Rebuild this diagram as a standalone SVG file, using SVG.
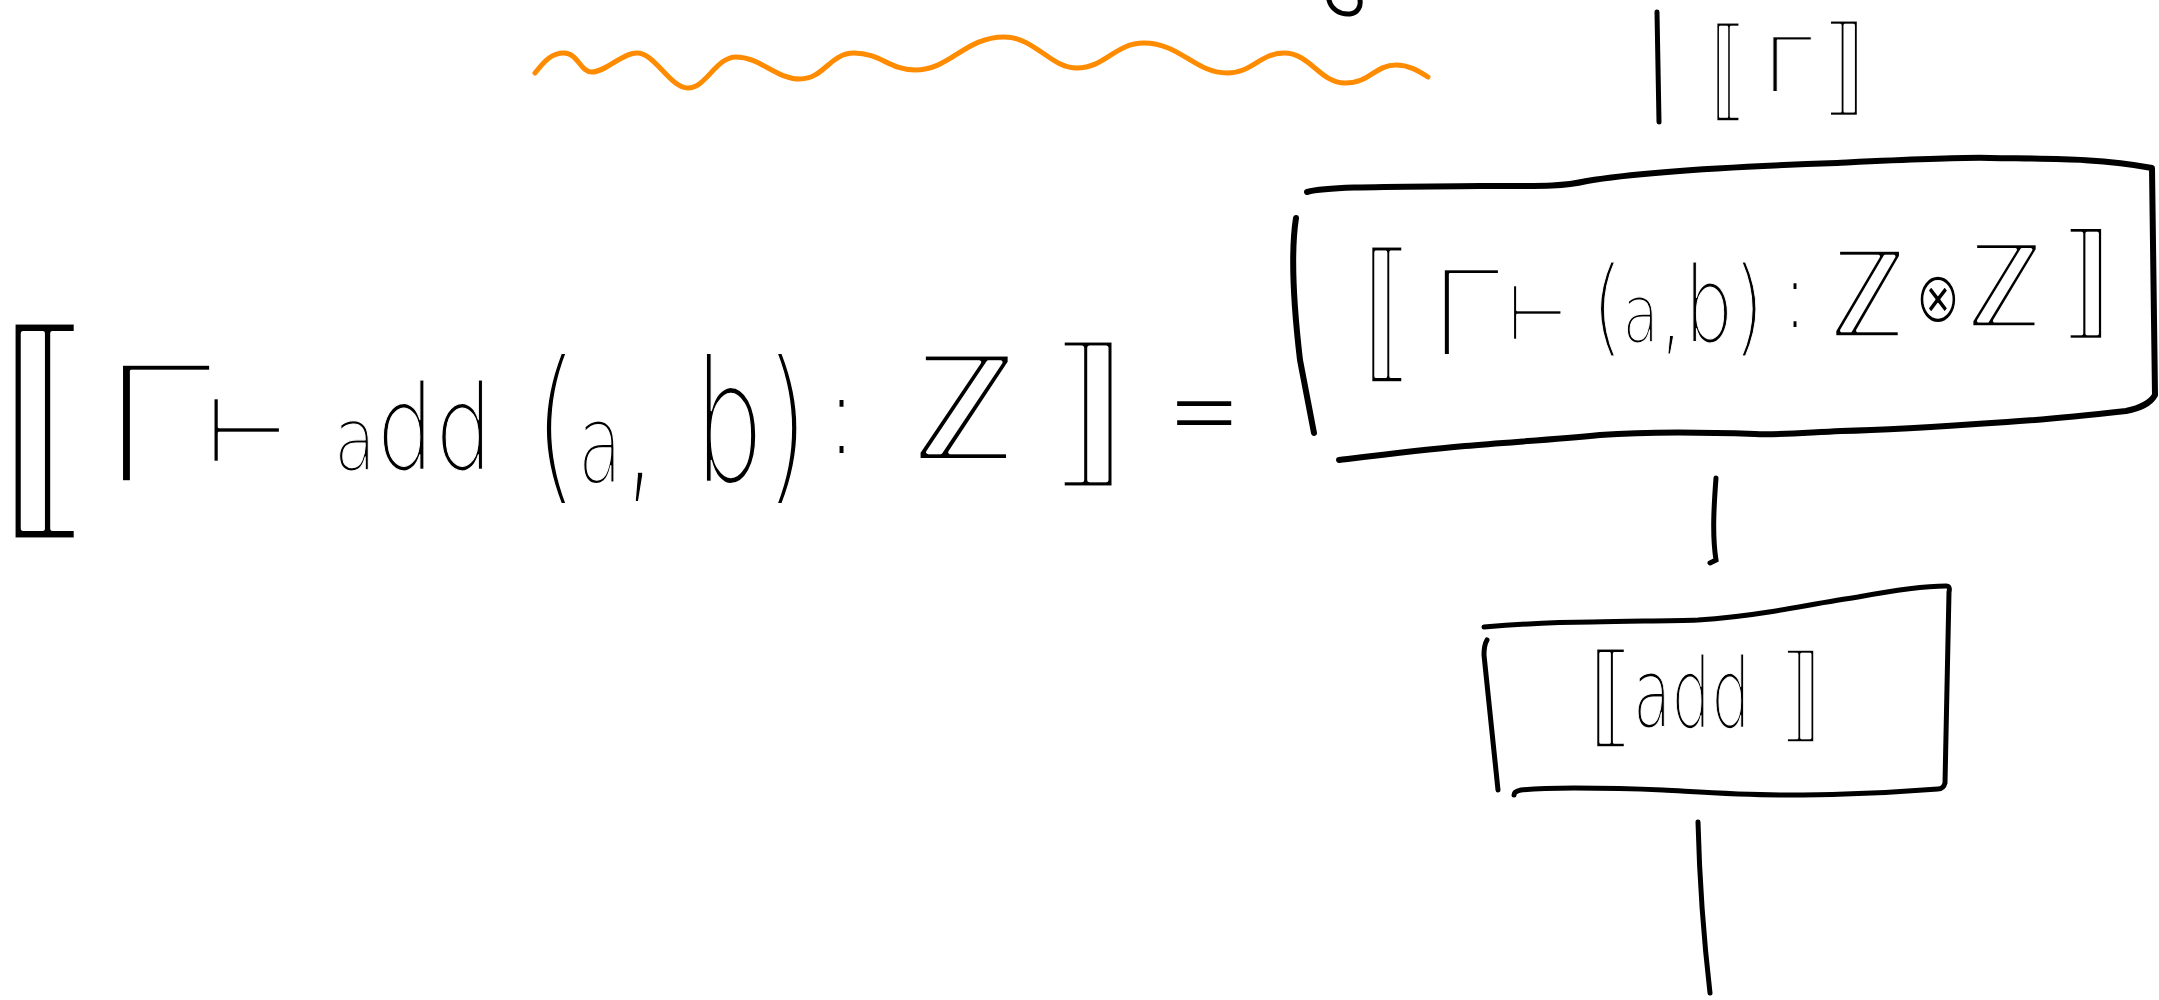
<svg xmlns="http://www.w3.org/2000/svg" width="2159" height="1000" viewBox="0 0 2159 1000">
  <style>
    .hw { font-family: 'DejaVu Sans', 'Liberation Sans', sans-serif; font-weight: 200; fill: #000; stroke: #fff; stroke-linejoin: round; }
    .edge { fill: none; stroke: #000; stroke-width: 6; stroke-linecap: round; stroke-linejoin: round; }
    .thin { stroke-width: 5; }
    .wire { fill: none; stroke: #000; stroke-width: 5; stroke-linecap: round; }
    .wave { fill: none; stroke: #ff8c00; stroke-width: 5; stroke-linecap: round; }
  </style>
  <rect width="2159" height="1000" fill="#fff"/>

  <!-- decorative strokes -->
  <path class="wave" d="M535,73 C545,60 552,53 564,53 C578,53 580,72 592,72 C606,72 622,53 637,53 C655,53 670,88 688,88 C706,88 716,57 736,57 C760,57 776,79 800,79 C824,79 830,53 854,53 C880,53 890,70 915,70 C950,70 965,37 1004,37 C1035,37 1050,68 1077,68 C1105,68 1115,43 1144,43 C1180,43 1195,73 1227,73 C1253,73 1260,53 1284,53 C1310,53 1320,83 1345,83 C1370,83 1375,65 1396,65 C1410,65 1420,72 1428,77"/>
  <path class="wire" d="M1329,0 C1331,9 1340,15 1350,14 C1358,13 1361,6 1360,0"/>

  <!-- left formula -->
  <g id="formula">
    <text class="hw" style="stroke-width:5.5" font-size="245" transform="translate(-4,508) scale(0.82,1)">⟦</text>
    <text class="hw" style="stroke-width:2.5" font-size="160" transform="translate(96,482) scale(1.3,1)">Γ</text>
    <text class="hw" style="stroke-width:2.5" font-size="92" transform="translate(205,462) scale(1.04,1)">⊢</text>
    <text class="hw" style="stroke-width:1.2" font-size="118" transform="translate(334,470) scale(0.78,1)"><tspan font-size="88">a</tspan>dd</text>
    <text class="hw" style="stroke-width:1.8" font-size="170" transform="translate(534,482) scale(0.66,1)">(<tspan font-size="110">a</tspan>, b)</text>
    <text class="hw" style="stroke-width:0" font-size="110" transform="translate(828,453) scale(0.73,1)">:</text>
    <text class="hw" style="stroke-width:4" font-size="148" transform="translate(912,460) scale(1.12,1)">ℤ</text>
    <text class="hw" style="stroke-width:5" font-size="166" transform="translate(1048,466) scale(1.0,1)">⟧</text>
    <text class="hw" style="stroke-width:0" font-size="120" transform="translate(1168,451) scale(0.72,1)">=</text>
  </g>

  <!-- top label -->
  <g id="gamma">
    <text class="hw" style="stroke-width:3" font-size="112" transform="translate(1710,107) scale(0.66,1)">⟦</text>
    <text class="hw" style="stroke-width:0.8" font-size="75" transform="translate(1762,92) scale(1.19,1)">Γ</text>
    <text class="hw" style="stroke-width:3" font-size="108" transform="translate(1822,102) scale(0.84,1)">⟧</text>
  </g>

  <!-- box: pair -->
  <g id="pair">
    <path class="edge" d="M1307,192 C1330,186 1400,187 1480,186 C1540,186 1560,187 1587,181 C1640,172 1750,166 1837,163 C1900,160 1960,157 1990,158 C2050,159 2100,158 2152,168 L2155,395 C2150,404 2140,408 2126,411 C2080,416 2040,420 2007,422 C1950,426 1890,430 1841,431 C1800,433 1780,435 1755,434 C1700,432 1640,432 1600,435 C1550,440 1510,442 1465,446 C1420,450 1380,455 1339,460"/>
    <path class="edge" d="M1296,218 C1291,250 1293,300 1300,360 L1314,433"/>
    <text class="hw" style="stroke-width:4.5" font-size="155" transform="translate(1362,363) scale(0.66,1)">⟦</text>
    <text class="hw" style="stroke-width:2" font-size="117" transform="translate(1428,355) scale(1.1,1)">Γ</text>
    <text class="hw" style="stroke-width:2.5" font-size="78" transform="translate(1507,340) scale(0.89,1)">⊢</text>
    <text class="hw" style="stroke-width:1.2" font-size="105" transform="translate(1592,342) scale(0.745,1)">(<tspan font-size="80">a</tspan>,b)</text>
    <text class="hw" style="stroke-width:0" font-size="90" transform="translate(1785,327) scale(0.66,1)">:</text>
    <text class="hw" style="stroke-width:3.5" font-size="122" transform="translate(1830,337) scale(0.98,1)">ℤ</text>
    <text class="hw" style="stroke-width:1.8" font-size="72" transform="translate(1915,322) scale(0.76,1)">⊗</text>
    <text class="hw" style="stroke-width:3.5" font-size="117" transform="translate(1967,327) scale(1.02,1)">ℤ</text>
    <text class="hw" style="stroke-width:3.5" font-size="126" transform="translate(2060,323) scale(0.85,1)">⟧</text>
  </g>

  <!-- box: add -->
  <g id="add">
    <path class="edge thin" d="M1484,627 C1520,624 1560,622 1592,622 C1640,621 1670,621 1698,620 C1730,618 1750,615 1769,612 C1800,607 1830,601 1858,597 C1890,591 1920,586 1946,586 C1949,586 1950,588 1949,592 L1945,783 C1944,787 1942,789 1938,789 C1900,792 1880,793 1845,794 C1820,795 1800,795 1787,795 C1740,795 1700,792 1663,790 C1620,788 1595,788 1574,788 C1550,788 1530,789 1521,790 C1516,791 1514,793 1514,795"/>
    <path class="edge thin" d="M1487,640 C1484,645 1484,650 1484,655 L1498,790"/>
    <text class="hw" style="stroke-width:3" font-size="112" transform="translate(1588,733) scale(0.83,1)">⟦</text>
    <text class="hw" style="stroke-width:1.2" font-size="97" transform="translate(1633,727) scale(0.645,1)">add</text>
    <text class="hw" style="stroke-width:3" font-size="105" transform="translate(1779,729) scale(0.85,1)">⟧</text>
  </g>

  <!-- connectors -->
  <g id="connectors">
    <path class="wire" d="M1657,12 L1659,122"/>
    <path class="wire" d="M1716,478 C1714,505 1712,535 1716,560 L1710,563"/>
    <path class="wire" d="M1698,822 C1700,900 1705,950 1710,993"/>
  </g>
</svg>
